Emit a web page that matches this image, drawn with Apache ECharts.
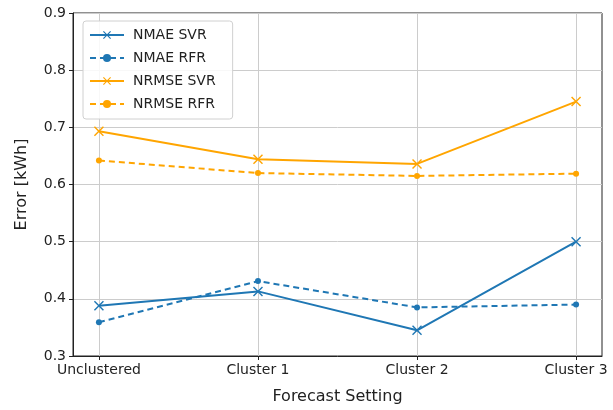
<!DOCTYPE html>
<html><head><meta charset="utf-8">
<script src="https://cdn.jsdelivr.net/npm/echarts@6/dist/echarts.min.js"></script>
<style>html,body{margin:0;padding:0;background:#fff}#c{width:613px;height:410px}</style>
</head><body><div id="c"></div>
<script>
const categories = ['Unclustered', 'Cluster 1', 'Cluster 2', 'Cluster 3'];
const nmaeSVR = [0.388, 0.413, 0.345, 0.500];
const nmaeRFR = [0.359, 0.431, 0.385, 0.390];
const nrmseSVR = [0.693, 0.644, 0.636, 0.745];
const nrmseRFR = [0.642, 0.620, 0.615, 0.619];
const yTicks = [0.3, 0.4, 0.5, 0.6, 0.7, 0.8, 0.9];

const BLUE = '#1f77b4', ORANGE = '#ffa500';
const XSYM = 'path://M0,1L1,0L5,4L9,0L10,1L6,5L10,9L9,10L5,6L1,10L0,9L4,5Z';
const font = 'DejaVu Sans';
function mk(name, data, color, dashed) {
  return {
    name, type: 'line', data: data.map((v, i) => [i, v]),
    symbol: dashed ? 'circle' : XSYM,
    symbolSize: dashed ? 6 : 10,
    showSymbol: true,
    lineStyle: { color, width: 2, type: dashed ? [6, 4] : 'solid' },
    itemStyle: { color },
    emphasis: { disabled: true },
    animation: false
  };
}
const chart = echarts.init(document.getElementById('c'), null, { renderer: 'canvas' });
chart.setOption({
  animation: false,
  grid: { left: 73, right: 11, top: 13, bottom: 54, show: true, borderColor: '#222', borderWidth: 1, backgroundColor: 'transparent' },
  legend: {
    orient: 'vertical', left: 83, top: 21,
    itemWidth: 34, itemHeight: 10, itemGap: 9,
    padding: [7, 17, 8, 6],
    backgroundColor: 'rgba(255,255,255,0.85)', borderColor: '#d0d0d0', borderWidth: 1, borderRadius: 3,
    textStyle: { fontFamily: font, fontSize: 14, color: '#222', padding: [0, 0, 0, 4] },
    data: ['NMAE SVR', 'NMAE RFR', 'NRMSE SVR', 'NRMSE RFR']
  },
  xAxis: {
    type: 'value', min: -0.163, max: 3.163,
    name: 'Forecast Setting', nameLocation: 'middle', nameGap: 33,
    nameTextStyle: { fontFamily: font, fontSize: 16, color: '#222' },
    axisLine: { show: true, onZero: false, lineStyle: { color: '#222' } },
    axisTick: { show: true, length: 4, customValues: [0, 1, 2, 3], lineStyle: { color: '#222' } },
    axisLabel: { customValues: [0, 1, 2, 3], formatter: v => categories[Math.round(v)], fontFamily: font, fontSize: 14, color: '#222', margin: 7 },
    splitLine: { show: true, lineStyle: { color: '#cccccc', width: 1 } }
  },
  yAxis: {
    type: 'value', min: yTicks[0], max: yTicks[yTicks.length - 1], interval: 0.1,
    name: 'Error [kWh]', nameLocation: 'middle', nameGap: 43,
    nameTextStyle: { fontFamily: font, fontSize: 16, color: '#222' },
    axisLine: { show: true, onZero: false, lineStyle: { color: '#222' } },
    axisTick: { show: true, length: 4, lineStyle: { color: '#222' } },
    axisLabel: { fontFamily: font, fontSize: 14, color: '#222', margin: 7, formatter: v => v.toFixed(1) },
    splitLine: { show: true, lineStyle: { color: '#cccccc', width: 1 } }
  },
  series: [
    mk('NMAE SVR', nmaeSVR, BLUE, false),
    mk('NMAE RFR', nmaeRFR, BLUE, true),
    mk('NRMSE SVR', nrmseSVR, ORANGE, false),
    mk('NRMSE RFR', nrmseRFR, ORANGE, true)
  ]
});
</script></body></html>
